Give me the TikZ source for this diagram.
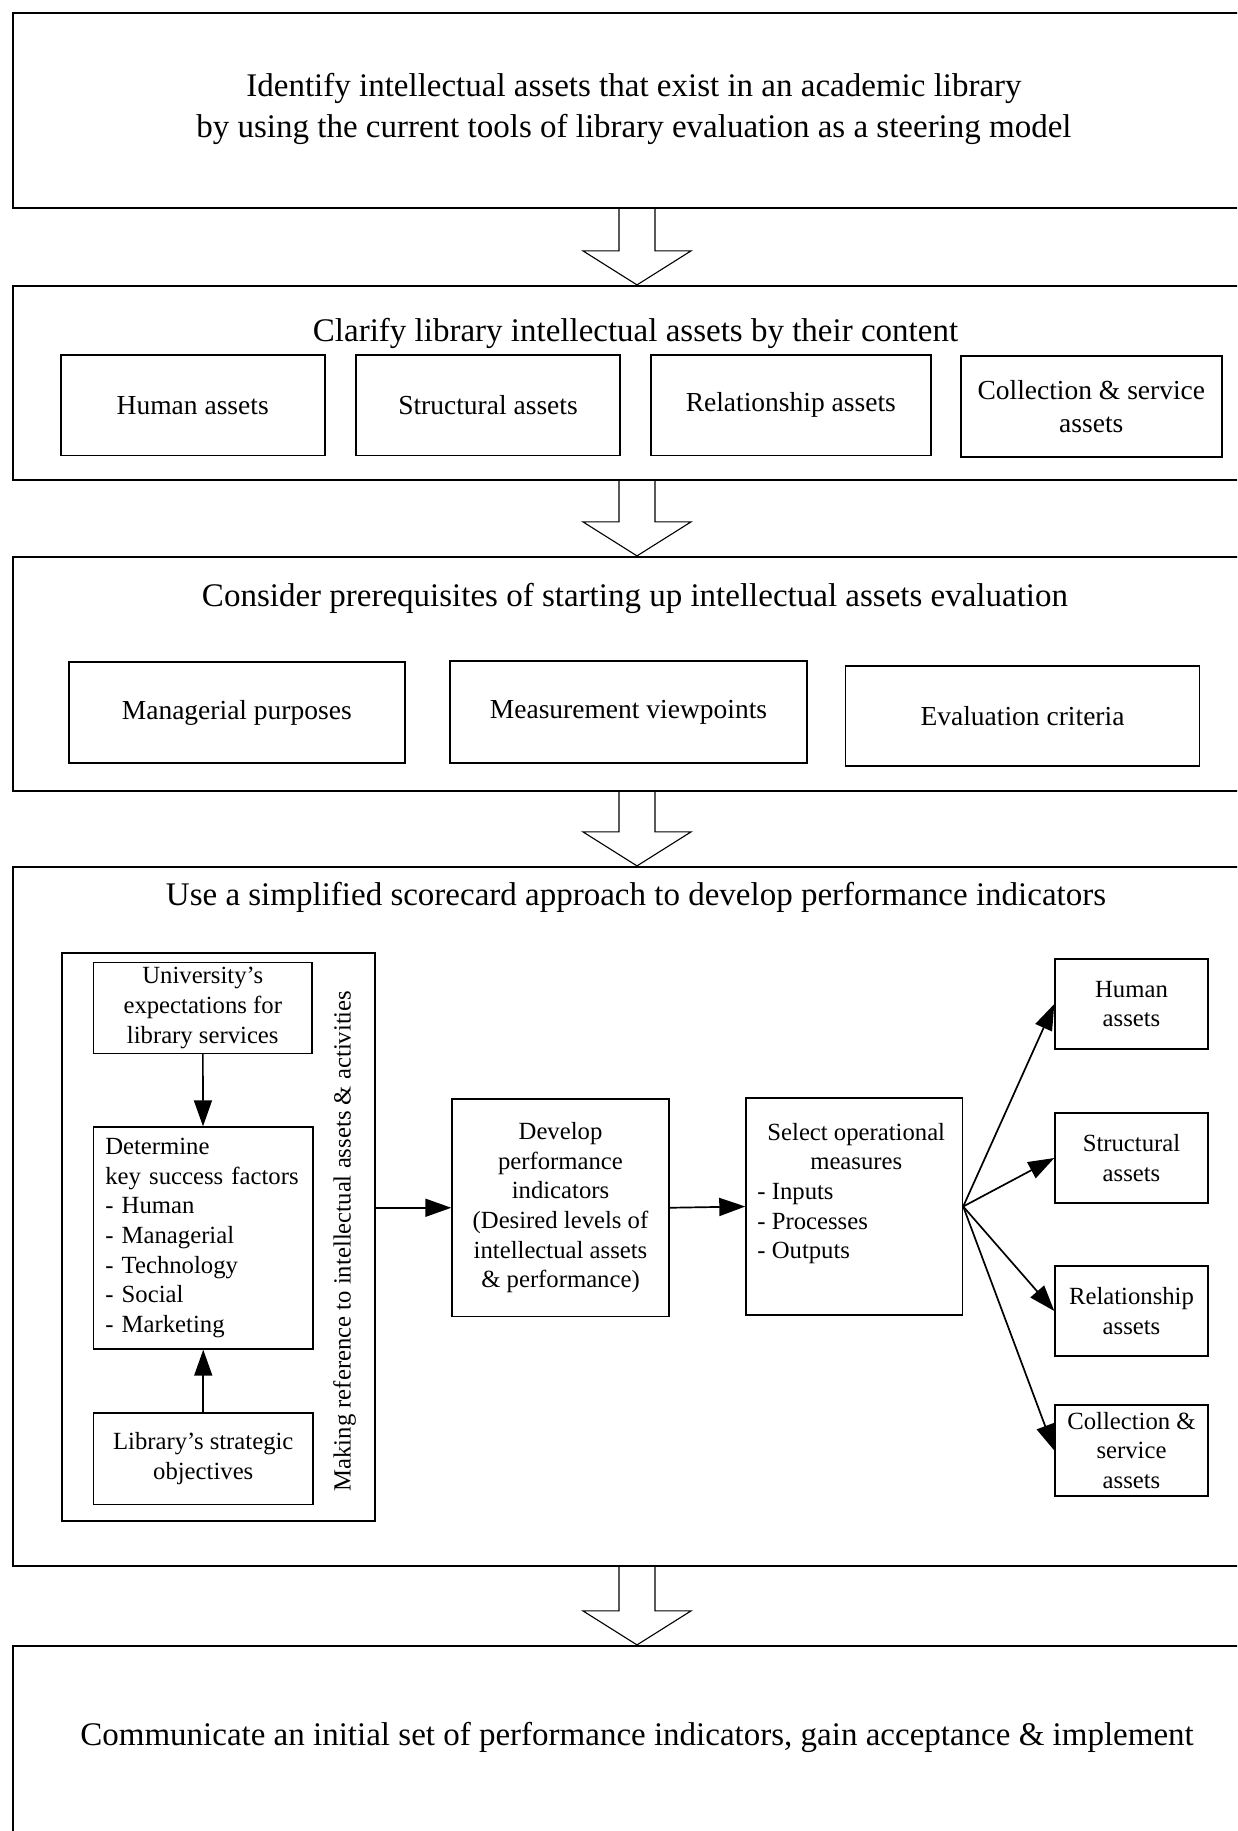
\documentclass[tikz,border=0pt]{standalone}
\usepackage{fontspec}
\setmainfont{Liberation Serif}
\usetikzlibrary{arrows.meta,calc}

\begin{document}
\begin{tikzpicture}[x=1pt,y=-1pt,
  big/.style={font=\fontsize{33}{41}\selectfont},
  mid/.style={font=\fontsize{27.5}{33}\selectfont},
  small/.style={font=\fontsize{24.7}{29.6}\selectfont},
  stage/.style={draw,line width=2.2pt,minimum width=1247pt,inner sep=0pt},
  subbox/.style={draw,line width=1.9pt,mid,align=center,inner sep=0pt},
  inbox/.style={draw,line width=1.4pt,small,inner sep=0pt},
  link/.style={line width=1.7pt,-{Triangle[length=26pt,width=18pt]}},
  hollow/.style={line width=1.1pt,line join=miter}
]
\useasboundingbox (0,0) rectangle (1237,1831);
\clip (0,0) rectangle (1237,1831);
\fill[white] (0,0) rectangle (1237,1831);

% axis of the hollow arrows between stages
\coordinate (axis) at (637,0);
\newcommand\hollowarrow[2]{%
  \draw[hollow] ($(#1.south -| axis)+(-18,0)$) -- ($(#2.north -| axis)+(-18,-34)$)
    -- ++(-36,0) -- (#2.north -| axis) -- ($(#2.north -| axis)+(54,-34)$)
    -- ++(-36,0) -- ($(#1.south -| axis)+(18,0)$);}

% stage frames
\node[stage,minimum height=195pt] (b1) at (636.5,110.5) {};
\node[stage,minimum height=194pt] (b2) at (636.5,383) {};
\node[stage,minimum height=234pt] (b3) at (636.5,674) {};
\node[stage,minimum height=699pt] (b4) at (636.5,1216.5) {};
\node[stage,minimum height=199pt] (b5) at (636.5,1745.5) {};

\hollowarrow{b1}{b2}
\hollowarrow{b2}{b3}
\hollowarrow{b3}{b4}
\hollowarrow{b4}{b5}

% stage titles
\node[big,align=center] (t1) at (634,109) {Identify intellectual assets that exist in an academic library\\by using the current tools of library evaluation as a steering model};
\node[big] (t2) at (635.5,333) {Clarify library intellectual assets by their content};
\node[big] (t3) at (635,598) {Consider prerequisites of starting up intellectual assets evaluation};
\node[big] (t4) at (636,897) {Use a simplified scorecard approach to develop performance indicators};
\node[big] (t5) at (637,1737) {Communicate an initial set of performance indicators, gain acceptance \& implement};

% asset types
\node[subbox,minimum width=264pt,minimum height=100.5pt] (h1) at (192.7,405.25) {Human assets};
\node[subbox,minimum width=264pt,minimum height=100.5pt] (s1) at (488,405.25) {Structural assets};
\node[subbox,minimum width=280.4pt,minimum height=100.5pt] (r1) at (790.8,405.25) {Relationship assets};
\node[subbox,minimum width=261.4pt,minimum height=101pt] (c1) at (1091.3,406.5) {Collection \& service\\assets};

% prerequisites
\node[subbox,minimum width=335.5pt,minimum height=101pt] (mp) at (236.8,712.5) {Managerial purposes};
\node[subbox,minimum width=357pt,minimum height=102pt] (mv) at (628.5,712) {Measurement viewpoints};
\node[subbox,minimum width=354pt,minimum height=100pt] (ec) at (1022.5,716) {Evaluation criteria};

% scorecard approach
\node[draw,line width=1.4pt,minimum width=313pt,minimum height=568pt,inner sep=0pt] (frame) at (218.5,1237) {};
\node[inbox,align=center,minimum width=218.5pt,minimum height=91pt] (uni) at (202.75,1008) {University’s\\expectations for\\library services};
\node[inbox,align=left,text width=196pt,inner xsep=11.75pt,minimum height=222pt] (det) at (203.25,1238) {Determine\\key success factors\\- Human\\- Managerial\\- Technology\\- Social\\- Marketing};
\node[inbox,align=center,minimum width=219.5pt,minimum height=91.5pt] (lib) at (203.25,1458.75) {Library’s strategic\\objectives};
\node[small,rotate=90] (ref) at (344.6,1241) {Making reference to intellectual assets \& activities};

\node[inbox,align=center,minimum width=217pt,minimum height=217.5pt] (dev) at (560.5,1207.75) {Develop\\performance\\indicators\\(Desired levels of\\intellectual assets\\\& performance)};
\node[inbox,minimum width=216.5pt,minimum height=217pt] (sel) at (854.25,1206.5) {};
\node[small,anchor=north,inner sep=0pt] (seltext) at ($(sel.north)+(2,22)$) {%
  \begin{tabular}{@{}l@{}}
  \multicolumn{1}{@{}c@{}}{Select operational}\\
  \multicolumn{1}{@{}c@{}}{measures}\\
  \hspace*{-10pt}- Inputs\\
  \hspace*{-10pt}- Processes\\
  \hspace*{-10pt}- Outputs
  \end{tabular}};

\node[inbox,align=center,minimum width=153pt,minimum height=90pt] (ha) at (1131.5,1004) {Human\\assets};
\node[inbox,align=center,minimum width=153pt,minimum height=90pt] (sa) at (1131.5,1158) {Structural\\assets};
\node[inbox,align=center,minimum width=153pt,minimum height=90pt] (ra) at (1131.5,1311) {Relationship\\assets};
\node[inbox,align=center,minimum width=153pt,minimum height=91pt] (ca) at (1131.5,1450.5) {Collection \&\\service\\assets};

% connectors
\draw[link] (uni) -- (det);
\draw[link] (lib) -- (det);
\draw[link] (frame.east |- dev.west) -- (dev.west);
\draw[link] (dev.east) -- (sel.west);
\draw[link] (sel.east) -- (ha.west);
\draw[link] (sel.east) -- (sa.west);
\draw[link] (sel.east) -- (ra.west);
\draw[link] (sel.east) -- (ca.west);
\end{tikzpicture}
\end{document}
